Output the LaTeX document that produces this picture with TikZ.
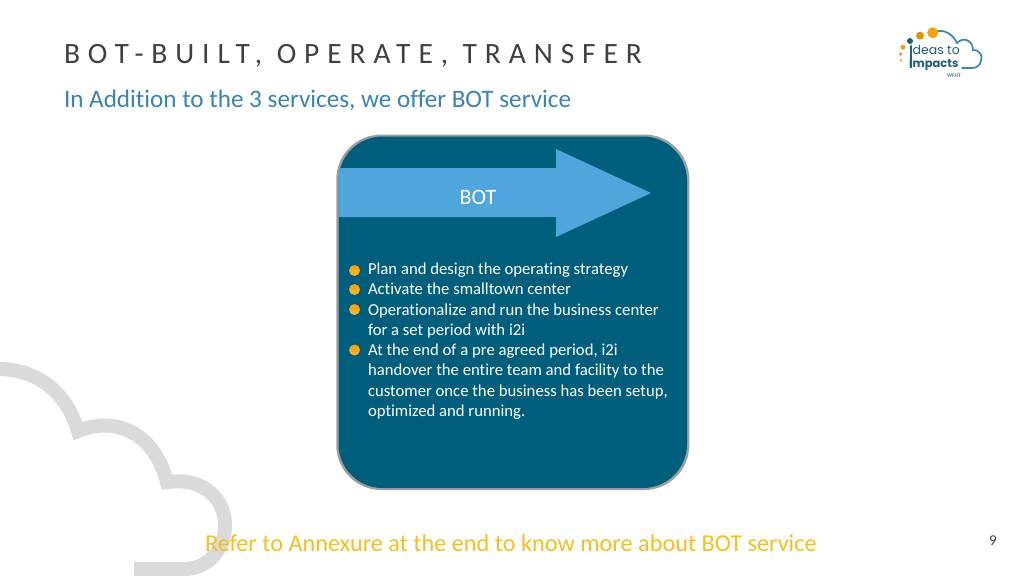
\documentclass[tikz,border=0pt]{standalone}
\usepackage{fontspec}
\setmainfont[RawFeature={-liga}]{Carlito}
\newfontfamily\titlefont[LetterSpace=26.75,RawFeature={-liga}]{Carlito}
\newfontfamily\logofont{Poppins}
\usetikzlibrary{shapes.geometric,shadings}
\definecolor{boxteal}{HTML}{005E7D}
\definecolor{arrowblue}{HTML}{4FA5DC}
\definecolor{subblue}{HTML}{3A84AE}
\definecolor{titlegray}{HTML}{404040}
\definecolor{cloudgray}{HTML}{D8DADB}
\definecolor{refyellow}{HTML}{F6BE22}
\definecolor{dotorange}{HTML}{F5A00F}
\definecolor{dotlight}{HTML}{F9B92E}
\definecolor{logoblue}{HTML}{3C88A8}
\definecolor{logoteal}{HTML}{1F5F7A}
\tikzset{
  txt/.style={inner sep=0pt,outer sep=0pt,anchor=base west},
  bodytxt/.style={txt,text=white,font=\fontsize{16.7}{20}\selectfont},
  bulletdot/.style={circle,minimum size=11pt,inner sep=0pt,top color=dotorange,bottom color=dotlight},
  logodot/.style={circle,inner sep=0pt,fill=#1},
}
\begin{document}
\begin{tikzpicture}[x=1pt,y=-1pt]
\useasboundingbox (0,0) rectangle (1024,575);
\fill[white] (0,0) rectangle (1024,575);
% background cloud
\draw[cloudgray,line width=14pt,miter limit=10]
  (-2,369) .. controls (35,369) and (66,390) .. (78,431)
  .. controls (118,415) and (155,435) .. (167,482)
  .. controls (205,477) and (225,500) .. (225,525)
  .. controls (225,552) and (205,569) .. (185,569) -- (134,569);
% title
\node[txt,text=titlegray,font=\fontsize{29.5}{34}\selectfont\titlefont] (title) at (64,64) {BOT-BUILT, OPERATE, TRANSFER};
\node[txt,text=subblue,font=\fontsize{25.15}{30}\selectfont] (sub) at (64,107) {In Addition to the 3 services, we offer BOT service};
% logo
\node[logodot=dotorange,minimum size=11pt] (d1) at (932.7,32.7) {};
\node[logodot=dotorange!90!black,minimum size=8pt] (d2) at (920,35.7) {};
\node[logodot=logoteal,minimum size=6pt] (d3) at (910,41) {};
\node[logodot=dotorange,minimum size=5pt] (d4) at (903,47.3) {};
\node[logodot=dotorange!80!gray,minimum size=3.5pt] (d5) at (900.7,54) {};
\node[logodot=dotorange!80!gray,minimum size=2.5pt] (d6) at (901,60.3) {};
\draw[logoblue,line width=1.7pt,line cap=round]
  (938,31) .. controls (946,30) and (953,35) .. (957,43)
  .. controls (964,36) and (973,41) .. (973,50)
  .. controls (980,50) and (983,56) .. (981,61)
  .. controls (980,66) and (976,68) .. (972,68) -- (962,68);
\node[txt,text=logoteal,font=\logofont\fontsize{12.5}{14}\selectfont] (l1) at (909.6,54.5) {ideas to};
\node[txt,text=logoteal,font=\logofont\bfseries\fontsize{11.5}{13}\selectfont] (l2) at (909.2,67.5) {Impacts};
\draw[logoteal,line width=1.6pt] (910.7,46) -- (910.7,68);
\node[txt,anchor=base,text=logoteal!80,font=\bfseries\fontsize{5.5}{6}\selectfont] (l3) at (954,77.5) {WFHT};
% box
\fill[black!38,rounded corners=45pt] (336.3,134.5) rectangle (689.3,490);
\fill[boxteal,rounded corners=44pt] (338.5,136.5) rectangle (687,488);
% arrow
\fill[arrowblue] (338.5,168) -- (556,168) -- (556,149) -- (651,193) -- (556,237) -- (556,217) -- (338.5,217) -- cycle;
\node[anchor=center,inner sep=0pt,text=white,font=\fontsize{22}{25}\selectfont] (bot) at (478,197.5) {BOT};
% bullets
\node[bulletdot] (b1) at (354.5,270.5) {};
\node[bulletdot] (b2) at (354.5,289.5) {};
\node[bulletdot] (b3) at (354.5,309.5) {};
\node[bulletdot] (b4) at (354.5,350) {};
\node[bodytxt] (t1) at (368,274.3) {Plan and design the operating strategy};
\node[bodytxt] (t2) at (368,294.3) {Activate the smalltown center};
\node[bodytxt] (t3) at (368,315) {Operationalize and run the business center};
\node[bodytxt] (t4) at (368,335) {for a set period with i2i};
\node[bodytxt] (t5) at (368,355) {At the end of a pre agreed period, i2i};
\node[bodytxt] (t6) at (368,375) {handover the entire team and facility to the};
\node[bodytxt] (t7) at (368,396) {customer once the business has been setup,};
\node[bodytxt] (t8) at (368,416) {optimized and running.};
% footer
\node[txt,text=refyellow,font=\fontsize{24.25}{28}\selectfont] (ref) at (205,551) {Refer to Annexure at the end to know more about BOT service};
\node[txt,anchor=base,text=titlegray,font=\fontsize{15}{18}\selectfont] (pg) at (993,545) {9};
\end{tikzpicture}
\end{document}
